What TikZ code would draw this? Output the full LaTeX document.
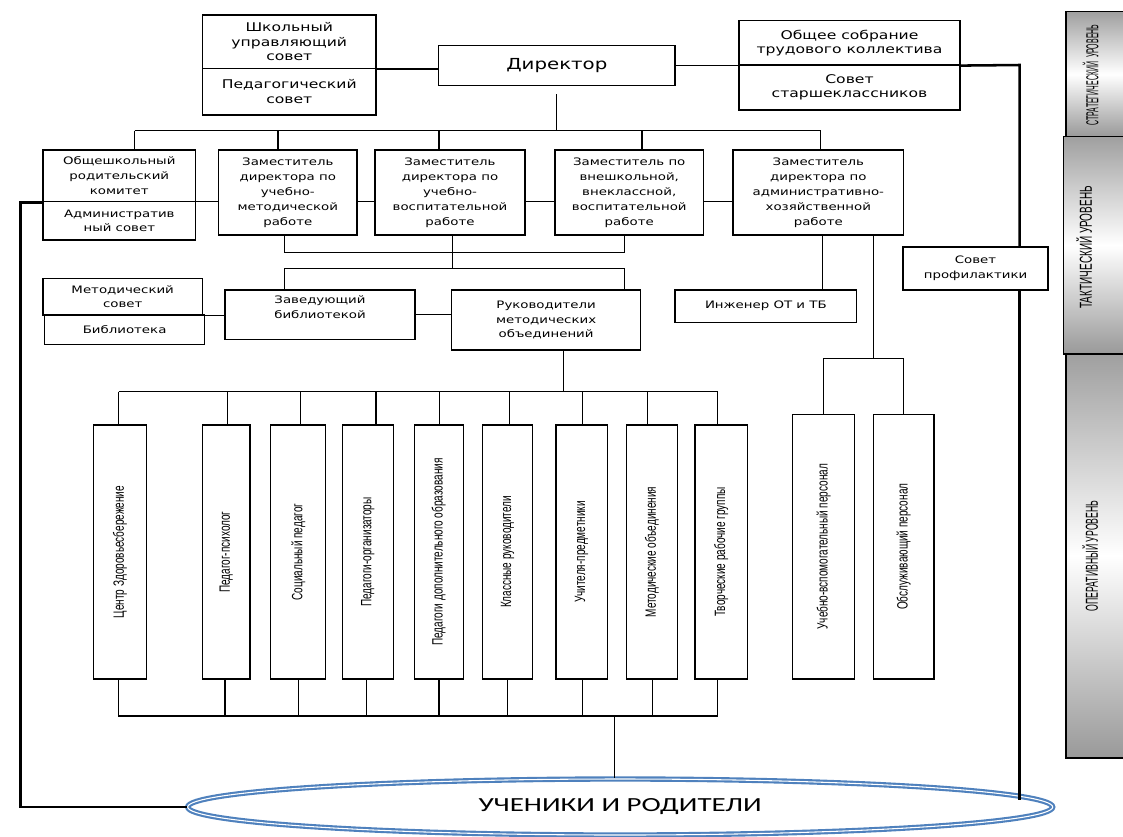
\documentclass[tikz,border=0pt]{standalone}
\usepackage{graphicx}
\usepackage{fontspec}
\setmainfont{DejaVu Sans}[FakeStretch=1.3]
\newfontfamily\vertfont{Liberation Sans}[FakeStretch=0.67]
\newfontfamily\ellfont{Carlito}[FakeStretch=1.45]
\usepackage{tikz}
\usetikzlibrary{shapes.geometric}
\definecolor{ringblue}{HTML}{4F81BD}

\begin{document}
\begin{tikzpicture}[x=0.75pt,y=-0.75pt,line width=0.9pt,
box/.style={draw,fill=white,inner sep=0pt,align=center,font=\fontsize{7.7}{11.2}\selectfont},
topbox/.style={box,font=\fontsize{9}{10.9}\selectfont},
vbox/.style={box,minimum height=190.5pt,font=\vertfont\fontsize{11.2}{13}\selectfont},
heavy/.style={line width=1.9pt},
ring/.style={ellipse,draw=ringblue,line width=1.6pt,double=white,double distance=0.8pt,inner sep=0pt},
lvl/.style={draw=black,line width=1pt,top color=gray!75,bottom color=gray!80,middle color=white},
lvltext/.style={inner sep=0pt,font=\vertfont\fontsize{13}{15}\selectfont}]
\useasboundingbox (0,0) rectangle (1123,836);

\node[topbox,minimum width=130.1pt,minimum height=40pt] (sus1) at (289.25,41.65) {Школьный\\управляющий\\совет};
\node[topbox,minimum width=130.1pt,minimum height=35pt] (sus2) at (289.25,91.65) {Педагогический\\совет};
\node[box,minimum width=177.3pt,minimum height=30pt,font=\fontsize{11.4}{13}\selectfont] (dir) at (556.8,65.7) {Директор};
\node[topbox,minimum width=165.75pt,minimum height=33.2pt] (ostk1) at (849.5,42.85) {Общее собрание\\трудового коллектива};
\node[topbox,minimum width=165.75pt,minimum height=33.75pt] (ostk2) at (849.5,87.5) {Совет\\старшеклассников};

\node[box,minimum width=114.6pt,minimum height=38.8pt] (ocom1) at (119.3,175.85) {Общешкольный\\родительский\\комитет};
\node[box,minimum width=114.6pt,minimum height=28.7pt] (ocom2) at (119.3,220.85) {Административ\\ный совет};
\node[box,minimum width=103.8pt,minimum height=63.75pt] (zam1) at (287.8,192.5) {Заместитель\\директора по\\учебно-\\методической\\работе};
\node[box,minimum width=112.5pt,minimum height=63.75pt] (zam2) at (450,192.5) {Заместитель\\директора по\\учебно-\\воспитательной\\работе};
\node[box,minimum width=111.5pt,minimum height=63.75pt] (zam3) at (629.25,192.5) {Заместитель по\\внешкольной,\\внеклассной,\\воспитательной\\работе};
\node[box,minimum width=128pt,minimum height=63.75pt] (zam4) at (818.3,192.5) {Заместитель\\директора по\\административно-\\хозяйственной\\работе};

\node[box,minimum width=119.7pt,minimum height=27.5pt] (met) at (122.7,296.65) {Методический\\совет};
\node[box,minimum width=120pt,minimum height=22pt] (bib) at (124.6,329.65) {Библиотека};
\node[box,minimum width=142.5pt,minimum height=37pt] (zav) at (320,314.65) {Заведующий\\библиотекой\\~};
\node[box,minimum width=141.5pt,minimum height=45pt] (ruk) at (546.1,320) {Руководители\\методических\\объединений};
\node[box,minimum width=136.3pt,minimum height=24.2pt] (ing) at (765.85,306.15) {Инженер ОТ и ТБ};
\node[box,minimum width=108.75pt,minimum height=32.25pt] (prof) at (975.5,268.5) {Совет\\профилактики};

\node[vbox,minimum width=46.2pt,minimum height=198.5pt] (uvp) at (823.5,546.65) {\rotatebox{90}{Учебно-вспомогательный персонал}};
\node[vbox,minimum width=45.5pt,minimum height=198.5pt] (obs) at (903.65,546.65) {\rotatebox{90}{Обслуживающий персонал}};

\node[ring,minimum width=648.75pt,minimum height=42pt] (ell) at (620.2,807) {\ellfont\fontsize{15}{18}\selectfont УЧЕНИКИ И РОДИТЕЛИ};

\coordinate (ta) at (134.6,130.7);
\coordinate (tb) at (820.7,130.7);
\coordinate (lk) at (0,201.7);
\coordinate (ma) at (284.6,252.3);
\coordinate (mb) at (624.8,252.3);
\coordinate (na) at (284.6,268.3);
\coordinate (nb) at (624.8,268.3);
\coordinate (sa) at (822.5,358.3);
\coordinate (sb) at (903.6,358.3);
\coordinate (ua) at (118.6,391.7);
\coordinate (ub) at (718.4,391.7);
\coordinate (da) at (118.2,716);
\coordinate (db) at (717.8,716);
\coordinate (rc) at (1019.5,65);

\draw (sus1.south east) -- (sus1.south east -| dir.west);
\draw (dir.east) -- (dir.east -| ostk1.west);
\draw ([yshift=-6pt]dir.south) -- (dir.south |- ta);
\draw (ta) -- (tb);
\foreach \n/\x in {ocom1/134.6,zam1/277.9,zam2/439,zam3/642,zam4/820.7}{
\draw (\x,130.7) -- (\x,0 |- \n.north);}
\foreach \a/\b in {ocom1/zam1,zam1/zam2,zam2/zam3,zam3/zam4}{
\draw (\a.east |- lk) -- (\b.west |- lk);}

\draw (zam1.south -| ma) -- (ma) -- (mb) -- (zam3.south -| mb);
\draw (zam2.south -| 452.5,0) -- (452.5,252.3) -- (452.5,268.3);
\draw (zav.north -| na) -- (na) -- (nb) -- (ruk.north -| nb);
\draw (met.south east) -- (met.south east -| zav.west);
\draw (zav.east) -- (zav.east -| ruk.west);
\draw (zam4.south -| sa) -- (ing.north -| sa);
\draw (zam4.south -| 873.5,0) -- (873.5,358.3);
\draw (uvp.north) -- (uvp.north |- sa) -- (obs.north |- sb) -- (obs.north);
\draw (ruk.south -| 563.4,0) -- (563.4,391.7);
\draw (ua) -- (ub);

\foreach \n/\x/\w/\a/\b/\t in {
1/120/40/118.6/118.3/Центр Здоровьесбережение,
2/226.15/35.8/227.5/225/Педагог-психолог,
3/298.2/41.25/300.7/298.3/Социальный педагог,
4/367.8/38.25/376/366.7/Педагоги-организаторы,
5/438.8/36.75/439.3/439/Педагоги дополнительного образования,
6/507.5/37.2/509.6/507.3/Классные руководители,
7/581.65/38.5/582.8/582.3/Учителя-предметники,
8/652/37.95/647.8/652.3/Методические объединения,
9/721.15/39.2/717.7/717.3/Творческие рабочие группы}{
\node[vbox,minimum width=\w pt] (v\n) at (\x,552) {\rotatebox{90}{\t}};
\draw (\a,391.7) -- (\a,0 |- v\n.north);
\draw (\b,0 |- v\n.south) -- (\b,716);}

\draw (da) -- (db);
\draw (614.6,716) -- (614.6,0 |- ell.north);

\draw[heavy] (ocom1.south west) -- ++(-22,0) |- (ell.west);
\draw[heavy] (ostk1.south east) -- (rc) -- (prof.north -| rc);
\draw[heavy] (prof.south -| rc) -- (rc |- ell.1.55);

\draw[lvl] (1066,11.7) rectangle (1130,136.7);
\draw[lvl] (1066,354) rectangle (1130,758);
\draw[lvl] (1063.3,136.7) rectangle (1130,354);
\node[lvltext] (lv1) at (1090.5,75) {\rotatebox{90}{\scalebox{0.6}[1]{СТРАТЕГИЧЕСКИЙ\ \ УРОВЕНЬ}}};
\node[lvltext] (lv2) at (1084,247.5) {\rotatebox{90}{\scalebox{0.86}[1]{ТАКТИЧЕСКИЙ УРОВЕНЬ}}};
\node[lvltext] (lv3) at (1090,556) {\rotatebox{90}{\scalebox{0.75}[1]{ОПЕРАТИВНЫЙ УРОВЕНЬ}}};
\end{tikzpicture}
\end{document}
